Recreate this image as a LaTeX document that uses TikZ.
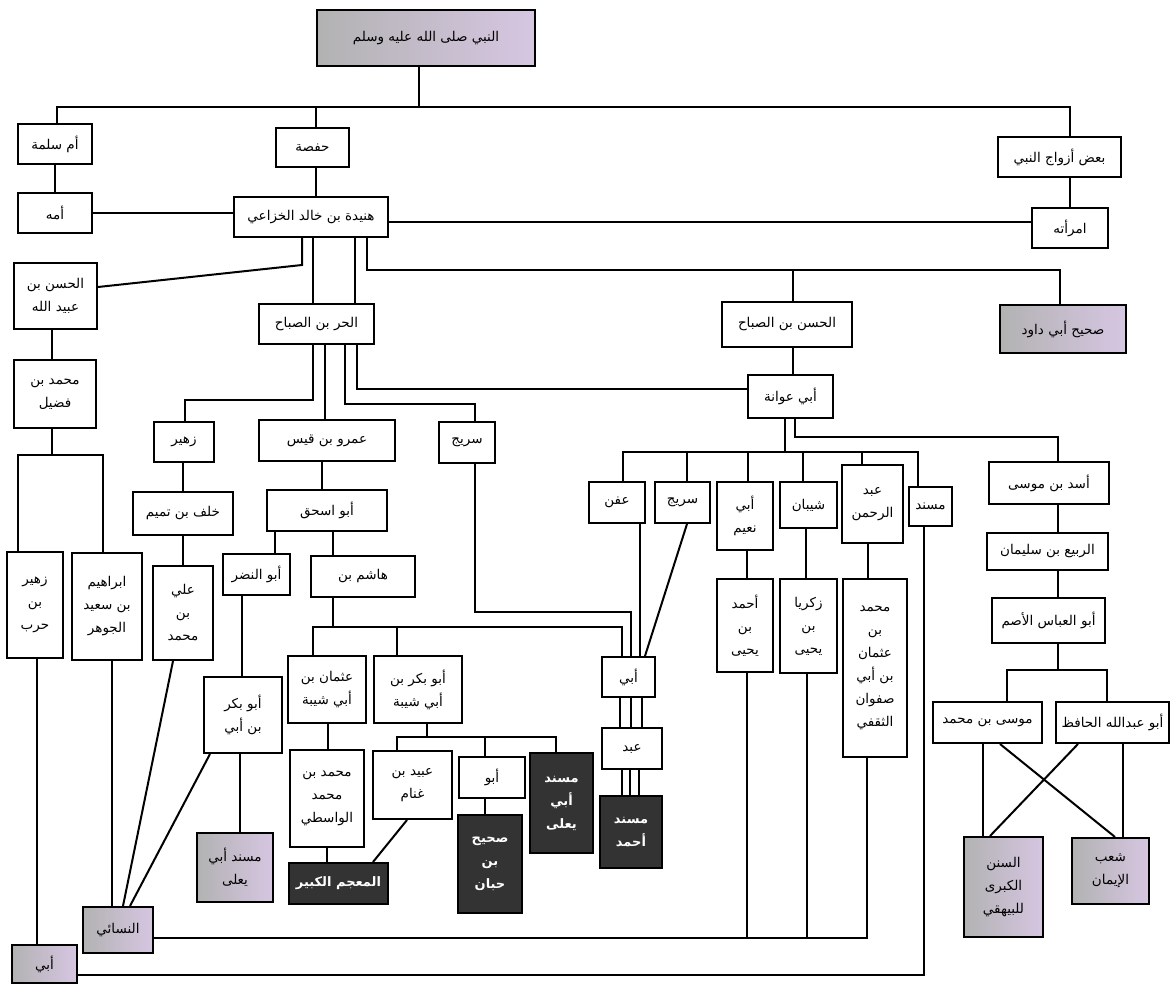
\documentclass[tikz,border=0pt]{standalone}
\usepackage{fontspec}
\newfontfamily\arabicfont[Script=Arabic]{DejaVu Sans}
\TeXXeTstate=1
\definecolor{gA}{HTML}{B2B2B2}
\definecolor{gM}{HTML}{C9D2E2}
\definecolor{gB}{HTML}{D6C6E2}
\definecolor{dk}{HTML}{333333}
\newcommand{\ar}[1]{\beginR #1\endR}
\newcommand{\bx}[7][bplain]{\node[#1,minimum width={(#5-#3)*1pt},minimum height={(#6-#4)*1pt}] (#2) at ({(#3+#5)/2},{(#4+#6)/2}) {#7};}
\tikzset{
  bplain/.style={draw=black,line width=2pt,fill=white,inner sep=0pt,align=center,
    font=\arabicfont\fontsize{13.5}{23}\selectfont,text=black},
  bgrad/.style={bplain,left color=gA,middle color=gM,right color=gB},
  bdark/.style={bplain,fill=dk,text=white,font=\arabicfont\bfseries\fontsize{13}{23}\selectfont},
  conn/.style={line width=2pt,draw=black}
}
\begin{document}
\begin{tikzpicture}[x=1pt,y=-1pt]
\path[use as bounding box,fill=white] (0,0) rectangle (1171,984);
% ---- boxes ----
\bx[bgrad]{nabi}{317}{10}{535}{66}{\ar{النبي صلى الله عليه وسلم}}
\bx{umm}{18}{124}{92}{164}{\ar{أم سلمة}}
\bx{hafsa}{276}{128}{349}{167}{\ar{حفصة}}
\bx{bad}{998}{137}{1121}{177}{\ar{بعض أزواج النبي}}
\bx{ummuh}{18}{193}{92}{233}{\ar{أمه}}
\bx{hun}{234}{197}{388}{237}{\ar{هنيدة بن خالد الخزاعي}}
\bx{imra}{1032}{208}{1108}{248}{\ar{امرأته}}
\bx{hasanA}{14}{263}{97}{329}{\ar{الحسن بن}\\\ar{عبيد الله}}
\bx{harr}{259}{304}{374}{344}{\ar{الحر بن الصباح}}
\bx{hasanB}{722}{302}{852}{347}{\ar{الحسن بن الصباح}}
\bx[bgrad]{sahihAD}{1000}{305}{1126}{353}{\ar{صحيح أبي داود}}
\bx{awana}{748}{375}{833}{418}{\ar{أبي عوانة}}
\bx{mfudayl}{14}{360}{96}{428}{\ar{محمد بن}\\\ar{فضيل}}
\bx{zuhair}{154}{422}{214}{462}{\ar{زهير}}
\bx{amr}{259}{420}{395}{461}{\ar{عمرو بن قيس}}
\bx{suraijA}{439}{422}{495}{463}{\ar{سريج}}
\bx{khalaf}{133}{492}{233}{535}{\ar{خلف بن تميم}}
\bx{abuishaq}{267}{490}{387}{531}{\ar{أبو اسحق}}
\bx{affan}{589}{482}{645}{523}{\ar{عفن}}
\bx{suraijB}{655}{482}{710}{523}{\ar{سريج}}
\bx{abunuaym}{717}{482}{773}{550}{\ar{أبي}\\\ar{نعيم}}
\bx{shayban}{780}{482}{837}{528}{\ar{شيبان}}
\bx{abdrahman}{842}{465}{903}{543}{\ar{عبد}\\\ar{الرحمن}}
\bx{musnad}{909}{487}{952}{526}{\ar{مسند}}
\bx{asad}{989}{462}{1109}{504}{\ar{أسد بن موسى}}
\bx{rabi}{987}{533}{1108}{570}{\ar{الربيع بن سليمان}}
\bx{abbas}{992}{598}{1105}{643}{\ar{أبو العباس الأصم}}
\bx{musa}{933}{702}{1042}{743}{\ar{موسى بن محمد}}
\bx{hafiz}{1056}{702}{1169}{743}{\ar{أبو عبدالله الحافظ}}
\bx[bgrad]{sunan}{964}{837}{1043}{937}{\ar{السنن}\\\ar{الكبرى}\\\ar{للبيهقي}}
\bx[bgrad]{shuab}{1072}{838}{1149}{904}{\ar{شعب}\\\ar{الإيمان}}
\bx{zuhairH}{7}{552}{63}{658}{\ar{زهير}\\\ar{بن}\\\ar{حرب}}
\bx{ibrahim}{72}{553}{142}{660}{\ar{ابراهيم}\\\ar{بن سعيد}\\\ar{الجوهر}}
\bx{ali}{153}{566}{213}{660}{\ar{علي}\\\ar{بن}\\\ar{محمد}}
\bx{abunadr}{223}{554}{290}{595}{\ar{أبو النضر}}
\bx{hashim}{311}{556}{415}{597}{\ar{هاشم بن}}
\bx{abubakrA}{204}{677}{282}{753}{\ar{أبو بكر}\\\ar{بن أبي}}
\bx{uthman}{288}{656}{366}{723}{\ar{عثمان بن}\\\ar{أبي شيبة}}
\bx{abubakrB}{374}{656}{462}{723}{\ar{أبو بكر بن}\\\ar{أبي شيبة}}
\bx{abi}{602}{657}{655}{697}{\ar{أبي}}
\bx{abd}{602}{728}{662}{769}{\ar{عبد}}
\bx[bdark]{musAhmad}{600}{796}{662}{868}{\ar{مسند}\\\ar{أحمد}}
\bx{ahmadY}{717}{579}{773}{672}{\ar{أحمد}\\\ar{بن}\\\ar{يحيى}}
\bx{zakariya}{780}{579}{837}{673}{\ar{زكريا}\\\ar{بن}\\\ar{يحيى}}
\bx{mUthman}{843}{579}{907}{757}{\ar{محمد}\\\ar{بن}\\\ar{عثمان}\\\ar{بن أبي}\\\ar{صفوان}\\\ar{الثقفي}}
\bx[bgrad]{myalaA}{197}{833}{273}{902}{\ar{مسند أبي}\\\ar{يعلى}}
\bx{wasiti}{290}{750}{364}{847}{\ar{محمد بن}\\\ar{محمد}\\\ar{الواسطي}}
\bx[bdark]{mujam}{289}{863}{388}{904}{\ar{المعجم الكبير}}
\bx{ubaid}{373}{751}{452}{819}{\ar{عبيد بن}\\\ar{غنام}}
\bx{abu}{459}{757}{525}{798}{\ar{أبو}}
\bx[bdark]{hibban}{458}{815}{522}{913}{\ar{صحيح}\\\ar{بن}\\\ar{حبان}}
\bx[bdark]{myalaB}{530}{753}{593}{853}{\ar{مسند}\\\ar{أبي}\\\ar{يعلى}}
\bx[bgrad]{nasai}{83}{907}{153}{953}{\ar{النسائي}}
\bx[bgrad]{abiB}{12}{945}{77}{983}{\ar{أبي}}
% ---- connectors ----
\begin{scope}[conn]
\draw (nabi.south -| 419,0) -- (419,107);
\draw (umm.north -| 57,0) -- (57,107) -- (1070,107) -- (bad.north -| 1070,0);
\draw (hafsa.north -| 316,0) -- (316,107);
\draw (umm.south -| 55,0) -- (ummuh.north -| 55,0);
\draw (ummuh.east |- 0,213) -- (hun.west |- 0,213);
\draw (hafsa.south -| 316,0) -- (hun.north -| 316,0);
\draw (bad.south -| 1070,0) -- (imra.north -| 1070,0);
\draw (hun.east |- 0,222) -- (imra.west |- 0,222);
\draw (hun.south -| 302,0) -- (302,265) -- (hasanA.east |- 0,287);
\draw (hun.south -| 313,0) -- (harr.north -| 313,0);
\draw (hun.south -| 355,0) -- (harr.north -| 355,0);
\draw (hun.south -| 367,0) -- (367,270) -- (1060,270) -- (sahihAD.north -| 1060,0);
\draw (793,270) -- (hasanB.north -| 793,0);
\draw (hasanB.south -| 793,0) -- (awana.north -| 793,0);
\draw (hasanA.south -| 52,0) -- (mfudayl.north -| 52,0);
\draw (mfudayl.south -| 52,0) -- (52,455);
\draw (zuhairH.north -| 18,0) -- (18,455) -- (103,455) -- (ibrahim.north -| 103,0);
\draw (harr.south -| 313,0) -- (313,400) -- (185,400) -- (zuhair.north -| 185,0);
\draw (harr.south -| 325,0) -- (amr.north -| 325,0);
\draw (harr.south -| 345,0) -- (345,404) -- (475,404) -- (suraijA.north -| 475,0);
\draw (harr.south -| 357,0) -- (357,389) -- (awana.west |- 0,389);
\draw (zuhair.south -| 183,0) -- (khalaf.north -| 183,0);
\draw (amr.south -| 322,0) -- (abuishaq.north -| 322,0);
\draw (awana.south -| 785,0) -- (785,452);
\draw (affan.north -| 623,0) -- (623,452) -- (918,452) -- (musnad.north -| 918,0);
\draw (687,452) -- (suraijB.north -| 687,0);
\draw (748,452) -- (abunuaym.north -| 748,0);
\draw (803,452) -- (shayban.north -| 803,0);
\draw (862,452) -- (abdrahman.north -| 862,0);
\draw (awana.south -| 795,0) -- (795,437) -- (1058,437) -- (asad.north -| 1058,0);
\draw (asad.south -| 1058,0) -- (rabi.north -| 1058,0);
\draw (rabi.south -| 1058,0) -- (abbas.north -| 1058,0);
\draw (abbas.south -| 1058,0) -- (1058,670);
\draw (musa.north -| 1007,0) -- (1007,670) -- (1107,670) -- (hafiz.north -| 1107,0);
\draw (musa.south -| 983,0) -- (sunan.north -| 983,0);
\draw (musa.south -| 1000,0) -- (shuab.north -| 1115,0);
\draw (hafiz.south -| 1078,0) -- (sunan.north -| 990,0);
\draw (hafiz.south -| 1123,0) -- (shuab.north -| 1123,0);
\draw (khalaf.south -| 183,0) -- (ali.north -| 183,0);
\draw (abuishaq.south -| 275,0) -- (abunadr.north -| 275,0);
\draw (abuishaq.south -| 333,0) -- (hashim.north -| 333,0);
\draw (abunadr.south -| 242,0) -- (abubakrA.north -| 242,0);
\draw (hashim.south -| 333,0) -- (333,627);
\draw (uthman.north -| 313,0) -- (313,627) -- (622,627) -- (abi.north -| 622,0);
\draw (397,627) -- (abubakrB.north -| 397,0);
\draw (suraijA.south -| 475,0) -- (475,612) -- (631,612) -- (abi.north -| 631,0);
\draw (affan.south -| 640,0) -- (abi.north -| 640,0);
\draw (suraijB.south -| 687,0) -- (abi.north -| 645,0);
\draw (abi.south -| 620,0) -- (abd.north -| 620,0);
\draw (abi.south -| 631,0) -- (abd.north -| 631,0);
\draw (abi.south -| 642,0) -- (abd.north -| 642,0);
\draw (abd.south -| 622,0) -- (musAhmad.north -| 622,0);
\draw (abd.south -| 630,0) -- (musAhmad.north -| 630,0);
\draw (abd.south -| 639,0) -- (musAhmad.north -| 639,0);
\draw (abunuaym.south -| 747,0) -- (ahmadY.north -| 747,0);
\draw (shayban.south -| 806,0) -- (zakariya.north -| 806,0);
\draw (abdrahman.south -| 868,0) -- (mUthman.north -| 868,0);
\draw (abubakrA.south -| 240,0) -- (myalaA.north -| 240,0);
\draw (uthman.south -| 328,0) -- (wasiti.north -| 328,0);
\draw (wasiti.south -| 327,0) -- (mujam.north -| 327,0);
\draw (abubakrB.south -| 427,0) -- (427,737);
\draw (ubaid.north -| 397,0) -- (397,737) -- (556,737) -- (myalaB.north -| 556,0);
\draw (485,737) -- (abu.north -| 485,0);
\draw (abu.south -| 485,0) -- (hibban.north -| 485,0);
\draw (ubaid.south -| 407,0) -- (mujam.north -| 373,0);
\draw (zuhairH.south -| 37,0) -- (abiB.north -| 37,0);
\draw (ibrahim.south -| 112,0) -- (nasai.north -| 112,0);
\draw (ali.south -| 173,0) -- (nasai.north -| 123,0);
\draw (abubakrA.south -| 210,0) -- (nasai.north -| 130,0);
\draw (nasai.east |- 0,938) -- (867,938) -- (mUthman.south -| 867,0);
\draw (ahmadY.south -| 747,0) -- (747,938);
\draw (zakariya.south -| 807,0) -- (807,938);
\draw (abiB.east |- 0,975) -- (924,975) -- (musnad.south -| 924,0);
\end{scope}
\end{tikzpicture}
\end{document}
